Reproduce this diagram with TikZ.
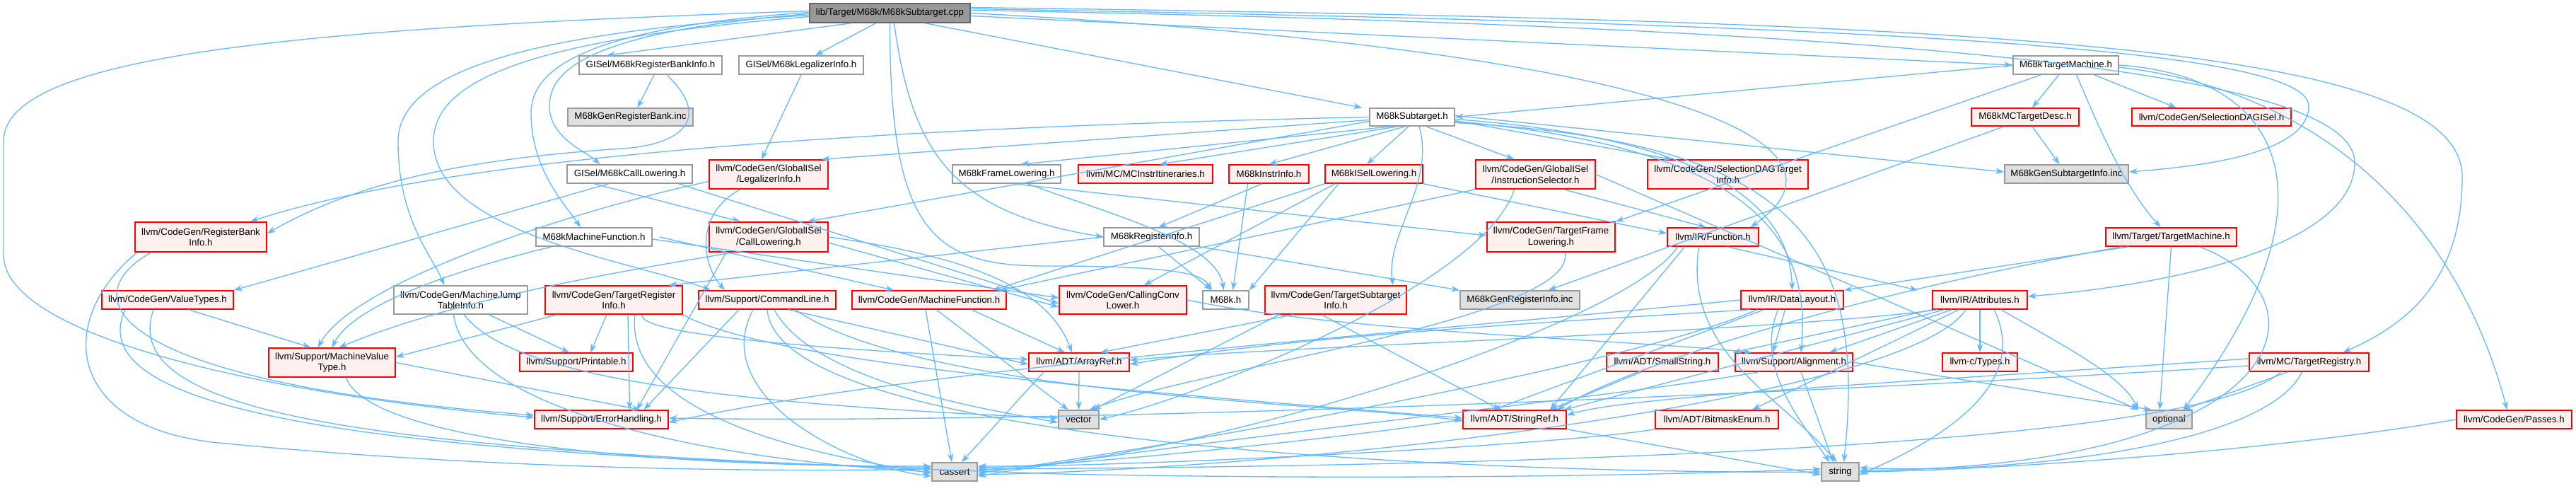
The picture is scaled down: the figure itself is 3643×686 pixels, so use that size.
\documentclass[tikz,border=0pt]{standalone}
\usepackage{fontspec}
\setmainfont{Liberation Sans}
\usetikzlibrary{arrows.meta}
\definecolor{edgeblue}{HTML}{63B8FF}
\definecolor{grayborder}{HTML}{999999}
\definecolor{redfill}{HTML}{FFF0F0}
\definecolor{sysfill}{HTML}{E0E0E0}
\definecolor{rootfill}{HTML}{999999}
\definecolor{rootborder}{HTML}{666666}
\newcommand\mknode[7]{\path ({(#2+#4)/2},{(#3+#5)/2}) node[#6, minimum width={(#4-#2)*1pt}, minimum height={(#5-#3)*1pt}] (#1) {#7};}
\begin{document}
\begin{tikzpicture}[x=1pt,y=-1pt,
  nd/.style={draw, line width=1.6pt, inner sep=0pt, align=center, text=black, font=\fontsize{13.3}{15.5}\selectfont},
  wnode/.style={nd, draw=grayborder, fill=white},
  rnode/.style={nd, draw=red, fill=redfill},
  gnode/.style={nd, draw=grayborder, fill=sysfill},
  rootnode/.style={nd, draw=rootborder, fill=rootfill},
  e/.style={draw=edgeblue, line width=1.3pt, -{Stealth[length=12pt,width=8.5pt]}}]
\useasboundingbox[fill=white] (0,0) rectangle (3643,686);
% row 0
\mknode{cpp}{1145}{5}{1372}{32}{rootnode}{lib/Target/M68k/M68kSubtarget.cpp}
% row 1
\mknode{rbi}{819}{79}{1021}{105}{wnode}{GISel/M68kRegisterBankInfo.h}
\mknode{li}{1045}{79}{1221}{105}{wnode}{GISel/M68kLegalizerInfo.h}
\mknode{tm}{2847}{79}{2996}{105}{wnode}{M68kTargetMachine.h}
% row 2
\mknode{grb}{803}{153}{980}{178}{gnode}{M68kGenRegisterBank.inc}
\mknode{st}{1937}{153}{2057}{178}{wnode}{M68kSubtarget.h}
\mknode{mcd}{2788}{153}{2940}{178}{rnode}{M68kMCTargetDesc.h}
\mknode{dagisel}{3015}{153}{3240}{178}{rnode}{llvm/CodeGen/SelectionDAGISel.h}
% row 3
\mknode{cl}{802}{233}{979}{259}{wnode}{GISel/M68kCallLowering.h}
\mknode{gli}{1003}{226}{1171}{267}{rnode}{llvm/CodeGen/GlobalISel\\/LegalizerInfo.h}
\mknode{fl}{1347}{233}{1500}{259}{wnode}{M68kFrameLowering.h}
\mknode{itin}{1525}{233}{1715}{259}{rnode}{llvm/MC/MCInstrItineraries.h}
\mknode{ii}{1738}{233}{1851}{259}{rnode}{M68kInstrInfo.h}
\mknode{isel}{1874}{233}{2012}{259}{rnode}{M68kISelLowering.h}
\mknode{is}{2087}{226}{2256}{267}{rnode}{llvm/CodeGen/GlobalISel\\/InstructionSelector.h}
\mknode{sdti}{2330}{226}{2557}{267}{rnode}{llvm/CodeGen/SelectionDAGTarget\\Info.h}
\mknode{gsi}{2835}{233}{3010}{259}{gnode}{M68kGenSubtargetInfo.inc}
% row 4
\mknode{rbinfo}{191}{314}{377}{356}{rnode}{llvm/CodeGen/RegisterBank\\Info.h}
\mknode{mf}{758}{322}{922}{348}{wnode}{M68kMachineFunction.h}
\mknode{gcl}{1003}{314}{1171}{356}{rnode}{llvm/CodeGen/GlobalISel\\/CallLowering.h}
\mknode{ri}{1561}{322}{1696}{348}{wnode}{M68kRegisterInfo.h}
\mknode{tfl}{2103}{314}{2284}{356}{rnode}{llvm/CodeGen/TargetFrame\\Lowering.h}
\mknode{fn}{2358}{322}{2487}{348}{rnode}{llvm/IR/Function.h}
\mknode{tmach}{2978}{322}{3163}{348}{rnode}{llvm/Target/TargetMachine.h}
% row 5
\mknode{vt}{144}{411}{330}{437}{rnode}{llvm/CodeGen/ValueTypes.h}
\mknode{mjti}{557}{404}{746}{444}{wnode}{llvm/CodeGen/MachineJump\\TableInfo.h}
\mknode{tri}{771}{404}{965}{444}{rnode}{llvm/CodeGen/TargetRegister\\Info.h}
\mknode{cmd}{988}{411}{1182}{437}{rnode}{llvm/Support/CommandLine.h}
\mknode{mfn}{1205}{411}{1423}{437}{rnode}{llvm/CodeGen/MachineFunction.h}
\mknode{ccl}{1498}{404}{1678}{444}{rnode}{llvm/CodeGen/CallingConv\\Lower.h}
\mknode{m68k}{1701}{411}{1766}{437}{wnode}{M68k.h}
\mknode{tsi}{1789}{404}{1989}{444}{rnode}{llvm/CodeGen/TargetSubtarget\\Info.h}
\mknode{gri}{2065}{411}{2234}{437}{gnode}{M68kGenRegisterInfo.inc}
\mknode{dl}{2462}{411}{2607}{437}{rnode}{llvm/IR/DataLayout.h}
\mknode{attr}{2733}{411}{2867}{437}{rnode}{llvm/IR/Attributes.h}
% row 6
\mknode{mvt}{380}{492}{559}{533}{rnode}{llvm/Support/MachineValue\\Type.h}
\mknode{prn}{735}{499}{895}{525}{rnode}{llvm/Support/Printable.h}
\mknode{ar}{1455}{499}{1597}{525}{rnode}{llvm/ADT/ArrayRef.h}
\mknode{ss}{2272}{499}{2430}{525}{rnode}{llvm/ADT/SmallString.h}
\mknode{al}{2454}{499}{2620}{525}{rnode}{llvm/Support/Alignment.h}
\mknode{types}{2747}{499}{2853}{525}{rnode}{llvm-c/Types.h}
\mknode{treg}{3181}{499}{3350}{525}{rnode}{llvm/MC/TargetRegistry.h}
% row 7
\mknode{eh}{756}{580}{945}{606}{rnode}{llvm/Support/ErrorHandling.h}
\mknode{vec}{1497}{580}{1554}{606}{gnode}{vector}
\mknode{sr}{2069}{580}{2215}{606}{rnode}{llvm/ADT/StringRef.h}
\mknode{be}{2341}{580}{2515}{606}{rnode}{llvm/ADT/BitmaskEnum.h}
\mknode{opt}{3035}{580}{3100}{606}{gnode}{optional}
\mknode{passes}{3474}{580}{3637}{606}{rnode}{llvm/CodeGen/Passes.h}
% row 8
\mknode{cassert}{1318}{654}{1382}{680}{gnode}{cassert}
\mknode{string}{2576}{654}{2629}{680}{gnode}{string}

% ---- edges from the .cpp
\draw[e] ([yshift=3pt]cpp.west) .. controls (400,40) and (5,80) .. (5,200) -- (5,360) .. controls (5,480) and (400,560) .. ([yshift=3pt]eh.west);
\draw[e] ([yshift=-3pt]cpp.west) .. controls (750,45) and (563,100) .. (563,200) .. controls (563,310) and (610,360) .. ([xshift=-23pt]mjti.north);
\draw[e] ([yshift=-5pt]cpp.west) .. controls (760,55) and (613,110) .. (613,200) .. controls (613,330) and (900,370) .. ([xshift=-80pt]cmd.north);
\draw[e] ([yshift=1pt]cpp.west) .. controls (820,40) and (751,100) .. (751,160) .. controls (751,240) and (800,290) .. ([xshift=-19pt]mf.north);
\draw[e] ([yshift=-1pt]cpp.west) .. controls (830,45) and (777,100) .. (777,150) .. controls (777,195) and (830,215) .. ([xshift=-42pt]cl.north);
\draw[e] ([xshift=-55pt]cpp.south) -- ([xshift=40pt]rbi.north west);
\draw[e] ([xshift=-20pt]cpp.south) -- ([xshift=20pt]li.north);
\draw[e] ([xshift=50pt]cpp.south) -- ([xshift=-10pt]st.north west);
\draw[e] ([xshift=6pt]cpp.south) .. controls (1290,220) and (1350,300) .. (ri.west);
\draw[e] (cpp.south) .. controls (1258,330) and (1320,376) .. (1480,376) .. controls (1650,376) and (1700,385) .. ([xshift=-20pt]m68k.north);
\draw[e] ([yshift=-4pt]cpp.east) -- (tm.west);
\draw[e] ([yshift=6pt]cpp.east) .. controls (2700,35) and (3265,70) .. (3265,150) .. controls (3265,220) and (3100,236) .. ([yshift=3pt]gsi.east);
\draw[e] ([yshift=8pt]cpp.east) .. controls (2800,30) and (3482,60) .. (3482,250) .. controls (3482,400) and (3400,460) .. ([xshift=48pt]treg.north);
\draw[e] ([yshift=4pt]cpp.east) .. controls (2800,40) and (3330,110) .. (3330,230) .. controls (3330,340) and (3100,400) .. ([yshift=5pt]attr.east);
\draw[e] (cpp.east) .. controls (2350,70) and (2650,200) .. ([xshift=53pt]fn.north);

% ---- row 1 sources
\draw[e] ([xshift=5pt]rbi.south) -- ([xshift=10pt]grb.north);
\draw[e] ([xshift=23pt]rbi.south) .. controls (1010,170) and (960,205) .. (880,210) .. controls (650,225) and (500,260) .. ([yshift=5pt]rbinfo.east);
\draw[e] (li.south) -- ([xshift=-10pt]gli.north);
\draw[e] (tm.west) -- (st.east);
\draw[e] ([xshift=-10pt]tm.south) -- ([xshift=10pt]mcd.north);
\draw[e] ([xshift=40pt]tm.south) -- ([xshift=-50pt]dagisel.north);
\draw[e] ([xshift=15pt]tm.south) .. controls (2960,160) and (3000,260) .. ([xshift=-15pt]tmach.north);
\draw[e] ([xshift=-35pt]tm.south) -- (tfl.north east);
\draw[e] (tm.east) .. controls (3250,110) and (3300,300) .. ([xshift=20pt]opt.north);
\draw[e] ([yshift=-3pt]tm.east) .. controls (3300,130) and (3480,330) .. ([xshift=-10pt]passes.north);

% ---- M68kSubtarget.h
\draw[e] (st.west) .. controls (1500,175) and (700,200) .. ([xshift=70pt]rbinfo.north);
\draw[e] ([yshift=-4pt]st.west) -- ([xshift=-10pt]gli.north east);
\draw[e] ([yshift=-6pt]st.west) -- ([xshift=-30pt]gcl.north east);
\draw[e] ([xshift=-30pt]st.south) -- ([xshift=20pt]fl.north);
\draw[e] ([xshift=-20pt]st.south) -- ([xshift=20pt]itin.north);
\draw[e] ([xshift=-10pt]st.south) -- ([xshift=0pt]ii.north);
\draw[e] ([xshift=-5pt]st.south) -- ([xshift=-10pt]isel.north);
\draw[e] ([xshift=20pt]st.south) -- ([xshift=-30pt]is.north);
\draw[e] ([yshift=-5pt]st.east) -- ([xshift=-80pt]sdti.north);
\draw[e] ([xshift=10pt]st.south) .. controls (2030,260) and (1960,330) .. ([xshift=-20pt]tsi.north east);
\draw[e] ([yshift=-3pt]st.east) .. controls (2350,190) and (2530,260) .. (dl.north);
\draw[e] ([yshift=-6pt]st.east) .. controls (2500,210) and (2560,350) .. ([xshift=10pt]al.north);
\draw[e] ([yshift=-8pt]st.east) .. controls (2550,200) and (2640,350) .. ([xshift=5pt]string.north);
\draw[e] ([yshift=2pt]st.east) -- ([yshift=3pt]gsi.west);

% ---- M68kMCTargetDesc.h
\draw[e] ([xshift=-30pt]mcd.south) -- ([xshift=40pt]gri.north);
\draw[e] ([xshift=10pt]mcd.south) -- ([xshift=-10pt]gsi.north);

% ---- row 3 sources
\draw[e] ([xshift=-50pt]cl.south) -- ([xshift=-40pt]gcl.north);
\draw[e] ([xshift=-30pt]cl.south) -- ([xshift=0pt]vt.north east);
\draw[e] ([xshift=-20pt]cl.south east) -- ([yshift=-5pt]ccl.west);
\draw[e] ([xshift=-40pt]gli.south) .. controls (985,300) and (990,370) .. ([xshift=-60pt]cmd.north);
\draw[e] ([yshift=-10pt]gli.west) .. controls (800,300) and (500,400) .. ([xshift=-20pt]mvt.north);
\draw[e] ([xshift=10pt]fl.south) -- ([yshift=2pt]tfl.west);
\draw[e] ([xshift=30pt]fl.south) .. controls (1560,300) and (1720,340) .. ([xshift=-3pt]m68k.north);
\draw[e] ([xshift=-10pt]ii.south) -- ([xshift=10pt]ri.north);
\draw[e] ([xshift=-30pt]ii.south) -- ([xshift=10pt]m68k.north);
\draw[e] ([xshift=-50pt]isel.south) -- (m68k.north east);
\draw[e] ([xshift=-55pt]isel.south) -- ([xshift=30pt]ccl.north);
\draw[e] (isel.south west) -- ([xshift=90pt]mfn.north);
\draw[e] (isel.south east) -- ([yshift=5pt]fn.west);
\draw[e] (is.south west) -- ([xshift=100pt]mfn.north);
\draw[e] ([xshift=-30pt]is.south) .. controls (2100,400) and (1700,560) .. (vec.east);
\draw[e] ([xshift=40pt]is.south) -- ([xshift=-10pt]fn.north);
\draw[e] (is.east) -- ([xshift=-10pt]opt.north west);
\draw[e] ([xshift=20pt]tfl.south) .. controls (2230,450) and (1700,520) .. ([xshift=15pt]vec.north);

% ---- row 4 sources
\draw[e] ([xshift=-70pt]rbinfo.south) .. controls (100,420) and (150,540) .. ([yshift=6pt]eh.west);
\draw[e] ([xshift=-90pt]rbinfo.south) .. controls (80,450) and (90,600) .. (300,625) .. controls (700,665) and (1100,667) .. ([yshift=4pt]cassert.west);
\draw[e] ([xshift=10pt]mf.east) -- ([xshift=-50pt]mfn.north);
\draw[e] ([xshift=-60pt]mf.south) .. controls (650,380) and (500,430) .. ([xshift=0pt]mvt.north);
\draw[e] ([yshift=-3pt]mf.east) -- ([yshift=3pt]ccl.west);
\draw[e] (gcl.east) .. controls (1350,360) and (1480,400) .. ([xshift=-10pt]ar.north);
\draw[e] ([yshift=-8pt]gcl.east) -- ([yshift=-10pt]ccl.west);
\draw[e] ([xshift=-50pt]gcl.south) .. controls (900,380) and (650,420) .. ([xshift=10pt]mvt.north);
\draw[e] ([xshift=-60pt]gcl.south) -- ([xshift=50pt]eh.north);
\draw[e] ([xshift=10pt]ri.south) -- ([xshift=-20pt]m68k.north);
\draw[e] (ri.west) -- ([xshift=-20pt]tri.north east);
\draw[e] (ri.south east) -- (gri.north west);
\draw[e] ([xshift=20pt]fn.south) -- ([xshift=-20pt]attr.north west);
\draw[e] ([xshift=-40pt]fn.south) -- ([xshift=50pt]sr.north);
\draw[e] ([xshift=-50pt]fn.south) .. controls (2300,460) and (1700,650) .. ([yshift=2pt]cassert.east);
\draw[e] ([xshift=-20pt]fn.south) .. controls (2380,500) and (2520,560) .. ([xshift=-5pt]string.north);
\draw[e] ([xshift=-60pt]tmach.south) -- (dl.north east);
\draw[e] ([xshift=-70pt]tmach.south) .. controls (2600,420) and (2300,520) .. ([xshift=60pt]sr.north);
\draw[e] ([xshift=-0pt]tmach.south) -- ([xshift=20pt]opt.north west);
\draw[e] ([xshift=40pt]tmach.south) .. controls (3300,420) and (3250,660) .. ([yshift=2pt]string.east);

% ---- row 5 sources
\draw[e] ([xshift=30pt]vt.south) -- ([xshift=-30pt]mvt.north);
\draw[e] ([xshift=-60pt]vt.south) .. controls (120,560) and (400,640) .. ([yshift=6pt]cassert.west);
\draw[e] ([xshift=-20pt]vt.south) .. controls (160,600) and (600,640) .. (1500,670) .. controls (2000,680) and (2400,670) .. ([yshift=4pt]string.west);
\draw[e] ([xshift=40pt]mjti.south) -- ([xshift=-10pt]prn.north);
\draw[e] ([xshift=-10pt]mjti.south) .. controls (660,580) and (1000,650) .. (cassert.west);
\draw[e] ([xshift=5pt]mjti.south) .. controls (720,530) and (1000,570) .. ([yshift=2pt]vec.west);
\draw[e] ([xshift=-80pt]tri.south) -- ([yshift=8pt]mvt.east);
\draw[e] ([xshift=-10pt]tri.south) -- ([xshift=20pt]prn.north);
\draw[e] ([xshift=20pt]tri.south) -- ([xshift=40pt]eh.north);
\draw[e] ([xshift=40pt]tri.south) .. controls (900,480) and (1300,500) .. ([yshift=4pt]ar.west);
\draw[e] (tri.south east) .. controls (1100,520) and (1700,560) .. ([yshift=2pt]sr.west);
\draw[e] ([xshift=30pt]tri.south) .. controls (880,600) and (1200,650) .. ([yshift=-2pt]cassert.west);
\draw[e] ([xshift=30pt]cmd.south) -- ([yshift=-3pt]ar.west);
\draw[e] ([xshift=-40pt]cmd.south) -- ([xshift=60pt]eh.north);
\draw[e] ([xshift=-20pt]cmd.south) .. controls (1000,560) and (1200,660) .. ([yshift=-6pt]cassert.west);
\draw[e] ([xshift=10pt]cmd.south) .. controls (1150,540) and (1400,580) .. ([yshift=-4pt]vec.west);
\draw[e] ([xshift=40pt]cmd.south) .. controls (1300,560) and (1900,570) .. ([yshift=-2pt]sr.west);
\draw[e] ([xshift=0pt]cmd.south) .. controls (1100,640) and (2200,670) .. (string.west);
\draw[e] ([xshift=60pt]mfn.south) -- ([xshift=-20pt]ar.north);
\draw[e] ([xshift=-5pt]mfn.south) -- ([xshift=-4pt]cassert.north);
\draw[e] ([xshift=10pt]mfn.south) -- ([xshift=-15pt]vec.north);
\draw[e] (ccl.east) .. controls (1900,470) and (2300,480) .. ([xshift=-60pt]al.north);
\draw[e] ([xshift=-60pt]tsi.south) -- ([xshift=30pt]ar.north);
\draw[e] ([xshift=-20pt]tsi.south) -- ([xshift=-20pt]sr.north);
\draw[e] ([xshift=-80pt]tsi.south) -- ([xshift=20pt]vec.north);
\draw[e] ([xshift=-60pt]dl.south) .. controls (2100,460) and (1800,480) .. ([yshift=-3pt]ar.east);
\draw[e] ([xshift=-40pt]dl.south) -- ([xshift=-30pt]sr.north);
\draw[e] ([xshift=-10pt]dl.south) -- ([xshift=-30pt]al.north);
\draw[e] (dl.west) .. controls (2000,470) and (1300,520) .. ([yshift=-4pt]eh.east);
\draw[e] ([xshift=-50pt]dl.south) .. controls (2300,520) and (1600,640) .. ([yshift=-2pt]cassert.east);
\draw[e] ([xshift=-20pt]dl.south) .. controls (2480,520) and (2550,600) .. ([xshift=-15pt]string.north);
\draw[e] ([xshift=0pt]attr.south) -- (types.north);
\draw[e] ([xshift=-60pt]attr.south) .. controls (2500,470) and (1800,490) .. ([yshift=3pt]ar.east);
\draw[e] ([xshift=-30pt]attr.south) -- ([xshift=50pt]be.north);
\draw[e] ([xshift=-50pt]attr.south) -- ([xshift=70pt]sr.north);
\draw[e] ([xshift=-40pt]attr.south) -- ([xshift=50pt]al.north);
\draw[e] (attr.south west) -- ([xshift=20pt]ss.north east);
\draw[e] ([xshift=-20pt]attr.south) .. controls (2700,560) and (1900,660) .. ([yshift=-4pt]cassert.east);
\draw[e] ([xshift=30pt]attr.south) .. controls (2920,490) and (3000,530) .. ([xshift=-10pt]opt.north west);
\draw[e] ([xshift=20pt]attr.south) .. controls (2880,560) and (2700,640) .. ([yshift=-4pt]string.east);

% ---- row 6 sources
\draw[e] (mvt.east) -- ([xshift=-40pt]eh.north east);
\draw[e] ([xshift=20pt]mvt.south) .. controls (520,620) and (900,660) .. ([yshift=8pt]cassert.west);
\draw[e] ([xshift=-30pt]ss.south) -- ([xshift=50pt]sr.north);
\draw[e] ([xshift=-50pt]al.south) .. controls (2300,560) and (1700,620) .. ([yshift=-6pt]cassert.east);
\draw[e] ([xshift=10pt]al.south) -- ([xshift=-10pt]string.north);
\draw[e] (al.east) -- ([xshift=-25pt]opt.north);
\draw[e] ([xshift=-50pt]ar.south) -- ([xshift=10pt]cassert.north);
\draw[e] (ar.south) -- (vec.north);
\draw[e] ([yshift=5pt]treg.west) .. controls (2700,540) and (2300,560) .. ([yshift=6pt]sr.east);
\draw[e] ([yshift=-5pt]treg.west) .. controls (2500,560) and (1500,600) .. ([yshift=2pt]eh.east);
\draw[e] ([xshift=-40pt]treg.south) .. controls (3100,640) and (2000,660) .. ([yshift=4pt]cassert.east);
\draw[e] ([xshift=-30pt]treg.south) -- ([xshift=20pt]opt.north);
\draw[e] ([xshift=-10pt]treg.south) .. controls (3200,640) and (2800,670) .. ([yshift=6pt]string.east);

% ---- row 7 sources
\draw[e] (sr.west) .. controls (1900,620) and (1500,660) .. ([yshift=6pt]cassert.east);
\draw[e] (sr.south east) -- ([yshift=-4pt]string.west);
\draw[e] (be.south west) .. controls (2200,630) and (1600,660) .. ([yshift=8pt]cassert.east);
\draw[e] (passes.west) .. controls (3200,640) and (2800,665) .. (string.east);
\end{tikzpicture}
\end{document}
